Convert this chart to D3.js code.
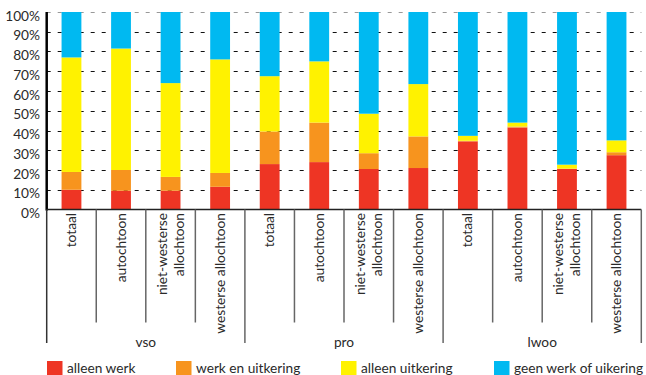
<!DOCTYPE html>
<html>
<head>
<meta charset="utf-8">
<script src="https://cdn.jsdelivr.net/npm/d3@7"></script>
<style>
  html, body { margin: 0; padding: 0; background: #fff; }
  svg { display: block; font-family: Lato, "Open Sans", sans-serif; }
</style>
</head>
<body>
<svg id="chart" width="646" height="375"></svg>
<script>
// ---- data ----
const groups = ["vso", "pro", "lwoo"];
const categories = ["totaal", "autochtoon", "niet-westerse\nallochtoon", "westerse allochtoon"];
const seriesNames = ["alleen werk", "werk en uitkering", "alleen uitkering", "geen werk of uikering"];
const seriesColors = ["#EE3524", "#F7941E", "#FFF200", "#00B9F1"];
// values in % per bar (vso x4, pro x4, lwoo x4)
const alleenWerk      = [10, 9.5, 9.5, 11.5, 23, 24, 20.5, 21, 34.5, 41.5, 20.5, 27.5];
const werkEnUitkering = [9, 10.5, 7, 7, 16.5, 20, 8, 16, 0.3, 0.5, 0.2, 1.5];
const alleenUitkering = [58, 61.5, 47.5, 57.5, 28, 31, 20, 26.5, 2.5, 2, 2, 6];
const geenWerk        = [23, 18.5, 36, 24, 32.5, 25, 51.5, 36.5, 62.7, 56, 77.3, 65];
const yTicks = [0, 10, 20, 30, 40, 50, 60, 70, 80, 90, 100];

(function () {
const FS = 13.7;
const TXT = "#2a2a2a";
// ---- build rows ----
const rows = [];
groups.forEach((g, gi) => categories.forEach((c, ci) => {
  const i = gi * categories.length + ci;
  rows.push({ id: i, group: g, cat: c,
    "alleen werk": alleenWerk[i], "werk en uitkering": werkEnUitkering[i],
    "alleen uitkering": alleenUitkering[i], "geen werk of uikering": geenWerk[i] });
}));

const svg = d3.select("#chart");
const pLeft = 46.7, pRight = 641.3, pTop = 12, pBottom = 209.5;

const x = d3.scaleBand().domain(rows.map(d => d.id)).range([pLeft, pRight])
  .paddingInner(0.6).paddingOuter(0.3);
const step = x.step();
const y = d3.scaleLinear().domain([0, 100]).range([pBottom, pTop]);

// gridlines
svg.append("g").selectAll("line").data(yTicks.filter(t => t > 0)).join("line")
  .attr("x1", pLeft).attr("x2", pRight)
  .attr("y1", d => Math.round(y(d)) + 0.5).attr("y2", d => Math.round(y(d)) + 0.5)
  .attr("stroke", d => d === 100 ? "#999" : "#111")
  .attr("stroke-width", 1)
  .attr("stroke-dasharray", "4,7");

// stacked bars
const stack = d3.stack().keys(seriesNames)(rows);
const color = d3.scaleOrdinal().domain(seriesNames).range(seriesColors);
svg.append("g").selectAll("g").data(stack).join("g")
  .attr("fill", d => color(d.key))
  .selectAll("rect").data(d => d).join("rect")
  .attr("x", d => x(d.data.id))
  .attr("width", x.bandwidth())
  .attr("y", d => y(d[1]))
  .attr("height", d => Math.max(0, y(d[0]) - y(d[1])));

// y axis labels
svg.append("g").selectAll("text").data(yTicks).join("text")
  .attr("x", 40).attr("y", d => y(d) + 8.5)
  .attr("text-anchor", "end")
  .attr("font-size", FS).attr("fill", TXT)
  .text(d => d + "%");

// y axis line
svg.append("line").attr("x1", pLeft).attr("x2", pLeft).attr("y1", pTop).attr("y2", pBottom + 1)
  .attr("stroke", "#000").attr("stroke-width", 2.5);
// x axis line
svg.append("line").attr("x1", pLeft).attr("x2", pRight).attr("y1", pBottom).attr("y2", pBottom)
  .attr("stroke", "#222").attr("stroke-width", 1.5);

// separators
const bounds = d3.range(rows.length + 1).map(i => pLeft + i * step);
svg.append("g").selectAll("line").data(bounds).join("line")
  .attr("x1", d => d).attr("x2", d => d)
  .attr("y1", pBottom)
  .attr("y2", (d, i) => i % categories.length === 0 ? 343 : 322.5)
  .attr("stroke", (d, i) => i === 0 ? "#333" : "#666")
  .attr("stroke-width", 1.5);

// category labels (rotated)
const catG = svg.append("g").selectAll("g").data(rows).join("g")
  .attr("transform", d => `translate(${x(d.id) + x.bandwidth() / 2},213) rotate(-90)`);
catG.each(function (d) {
  const lines = d.cat.split("\n");
  const g = d3.select(this);
  const lh = 17;
  lines.forEach((ln, li) => {
    const off = (li - (lines.length - 1) / 2) * lh;
    g.append("text")
      .attr("x", 0).attr("y", off + 4.5)
      .attr("text-anchor", "end")
      .attr("font-size", FS).attr("fill", TXT)
      .text(ln);
  });
});

// group labels
svg.append("g").selectAll("text").data(groups).join("text")
  .attr("x", (d, i) => pLeft + (i + 0.5) * categories.length * step)
  .attr("y", 346.5)
  .attr("text-anchor", "middle")
  .attr("font-size", FS).attr("fill", TXT)
  .text(d => d);

// legend
const legX = [47, 176, 341, 494];
const leg = svg.append("g").selectAll("g").data(seriesNames).join("g")
  .attr("transform", (d, i) => `translate(${legX[i]},361)`);
leg.append("rect").attr("width", 15.5).attr("height", 15).attr("fill", d => color(d));
leg.append("text").attr("x", 20).attr("y", 11.5)
  .attr("font-size", FS).attr("fill", TXT)
  .text(d => d);
})();
</script>
</body>
</html>
